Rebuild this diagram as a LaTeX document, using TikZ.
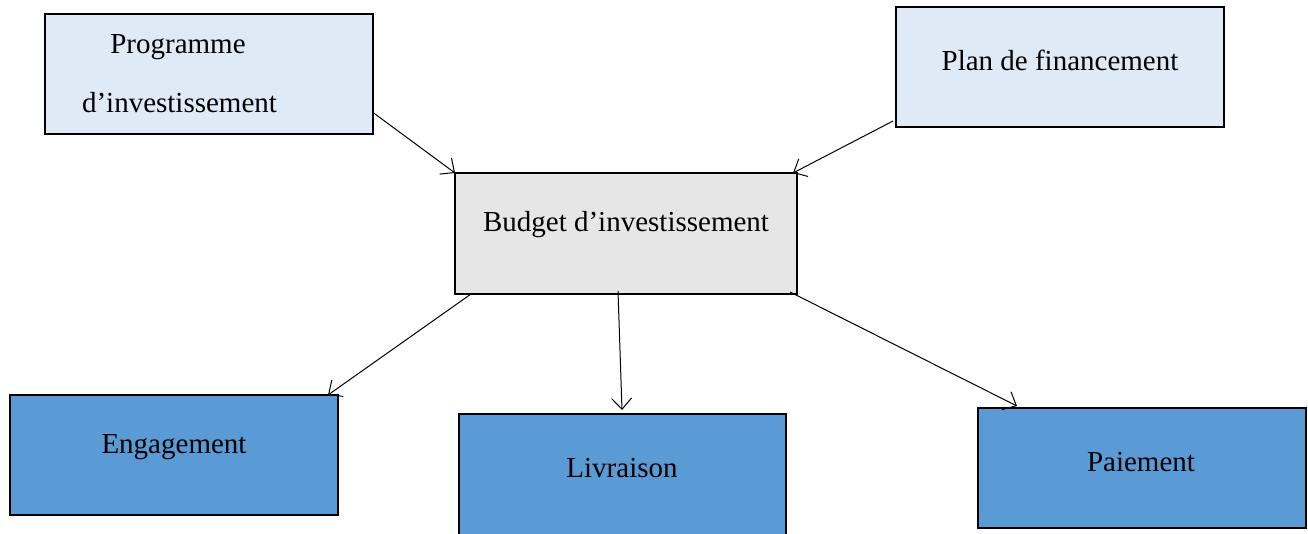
\documentclass[tikz,border=0pt]{standalone}
\usepackage{fontspec}
\setmainfont{Liberation Serif}
\usetikzlibrary{arrows.meta,calc}
\definecolor{lightbox}{HTML}{DEEAF6}
\definecolor{greybox}{HTML}{E6E6E6}
\definecolor{bluebox}{HTML}{5B9BD5}
\begin{document}
\begin{tikzpicture}[x=1pt,y=-1pt,
  box/.style={draw=black,line width=2pt,minimum width=328pt,minimum height=120pt,inner sep=0pt,outer sep=0pt},
  lbl/.style={font=\fontsize{29}{56}\selectfont,inner sep=0pt,anchor=center,align=center},
  conn/.style={line width=1pt,-{Straight Barb[length=11pt,width=20pt,line width=1pt]}}]
\useasboundingbox (0,0) rectangle (1308,533);
\node[box,fill=lightbox] (prog) at (209,73.5) {};
\node[box,fill=lightbox] (plan) at (1060,67) {};
\node[box,fill=greybox,minimum width=342pt,minimum height=121pt] (budget) at (626,233.5) {};
\node[box,fill=bluebox] (eng) at (174,455) {};
\node[box,fill=bluebox,minimum width=327pt,minimum height=140pt] (liv) at (622.5,484) {};
\node[box,fill=bluebox] (pai) at (1142,468) {};
\node[lbl] (t1) at (178,47) {Programme};
\node[lbl] (t2) at (179.5,103) {d’investissement};
\node[lbl] (t3) at (1060,60) {Plan de financement};
\node[lbl] (t4) at (626,225) {Budget d’investissement};
\node[lbl] (t5) at (174,447) {Engagement};
\node[lbl] (t6) at (622,468) {Livraison};
\node[lbl] (t7) at (1141,462) {Paiement};
\draw[conn] ($(prog.south east)+(0,-21)$) -- (budget.north west);
\draw[conn] ($(plan.south west)+(-3,-6)$) -- ($(budget.north east)+(-4,0)$);
\draw[conn] ($(budget.south west)+(16,0)$) -- ($(eng.north east)+(-10,0)$);
\draw[conn] ($(budget.south west)+(163,-3)$) -- ($(liv.north west)+(163,-4)$);
\draw[conn] ($(budget.south east)+(-7,-2)$) -- ($(pai.north west)+(39,-2)$);
\end{tikzpicture}
\end{document}
